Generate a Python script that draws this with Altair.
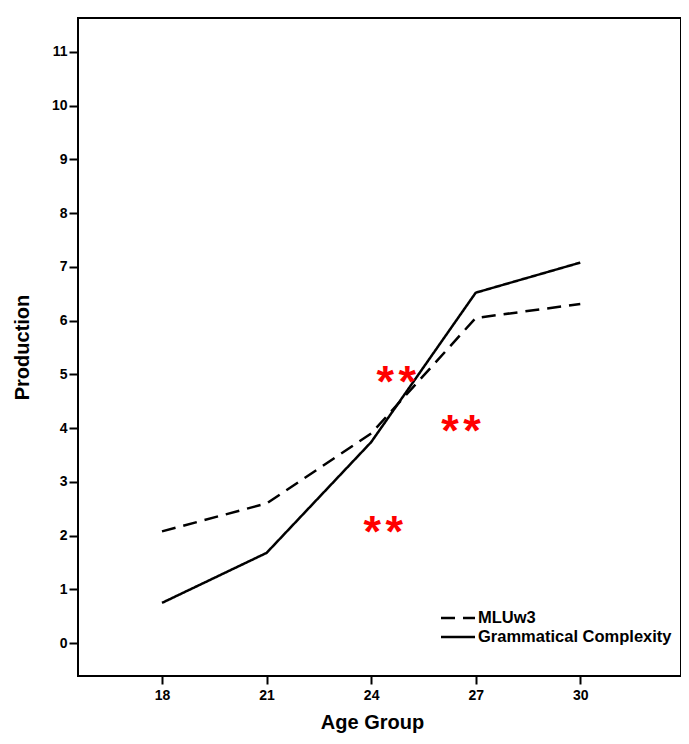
import altair as alt
import pandas as pd

ages = [18, 21, 24, 27, 30]
mluw3 = [2.08, 2.60, 3.90, 6.05, 6.31]
grammatical = [0.75, 1.68, 3.74, 6.52, 7.08]
series_names = ["MLUw3", "Grammatical Complexity"]

star_x = [24.72, 26.58, 24.35]
star_y = [5.03, 4.12, 2.23]

rows = []
for a, v in zip(ages, mluw3):
    rows.append({"Age": a, "Production": v, "Series": series_names[0]})
for a, v in zip(ages, grammatical):
    rows.append({"Age": a, "Production": v, "Series": series_names[1]})
df = pd.DataFrame(rows)
stars = pd.DataFrame({"x": star_x, "y": star_y})

FONT = "Liberation Sans"

xscale = alt.Scale(domain=[15.59, 32.89], nice=False, zero=False)
yscale = alt.Scale(domain=[-0.61, 11.63], nice=False, zero=False)

lines = alt.Chart(df).mark_line(color="black", strokeWidth=2.5).encode(
    x=alt.X("Age:Q", scale=xscale,
            axis=alt.Axis(values=ages, title="Age Group", grid=False,
                          tickSize=8, labelPadding=4, domain=False,
                          titleX=294, titleY=52, titleBaseline="alphabetic")),
    y=alt.Y("Production:Q", scale=yscale,
            axis=alt.Axis(values=list(range(0, 12)), title="Production", grid=False,
                          tickSize=9, labelPadding=2, domain=False,
                          titleX=-56, titleY=329, titleBaseline="middle",
                          titleAlign="center", titleAngle=270)),
    strokeDash=alt.StrokeDash(
        "Series:N",
        scale=alt.Scale(domain=series_names, range=[[14, 8], [1, 0]]),
        legend=alt.Legend(title=None, orient="none", legendX=370, legendY=590,
                          symbolType="M-2,0H2", symbolSize=289,
                          symbolStrokeColor="black", symbolStrokeWidth=2.5,
                          labelFont=FONT, labelFontSize=16.5, labelFontWeight="bold",
                          labelColor="black", labelOffset=10, rowPadding=0,
                          labelLimit=0),
    ),
)

star_marks = []
for dx in (-11, 11):
    star_marks.append(
        alt.Chart(stars).mark_text(text="*", color="#ff0000", font=FONT,
                                   fontSize=45, fontWeight="bold", dx=dx, dy=10,
                                   baseline="middle", align="center").encode(
            x=alt.X("x:Q", scale=xscale), y=alt.Y("y:Q", scale=yscale))
    )

chart = alt.layer(lines, *star_marks).properties(
    width=603, height=658,
    background="white",
    padding={"left": 70, "top": 10, "right": 0, "bottom": 60},
    autosize=alt.AutoSizeParams(type="none"),
).configure_view(stroke="black", strokeWidth=2).configure_axis(
    labelFont=FONT, labelFontSize=14, labelFontWeight="bold", labelColor="black",
    titleFont=FONT, titleFontSize=20, titleFontWeight="bold", titleColor="black",
    tickColor="black", tickWidth=2,
)

chart.save("out.html", embed_options={"renderer": "svg", "actions": False})
